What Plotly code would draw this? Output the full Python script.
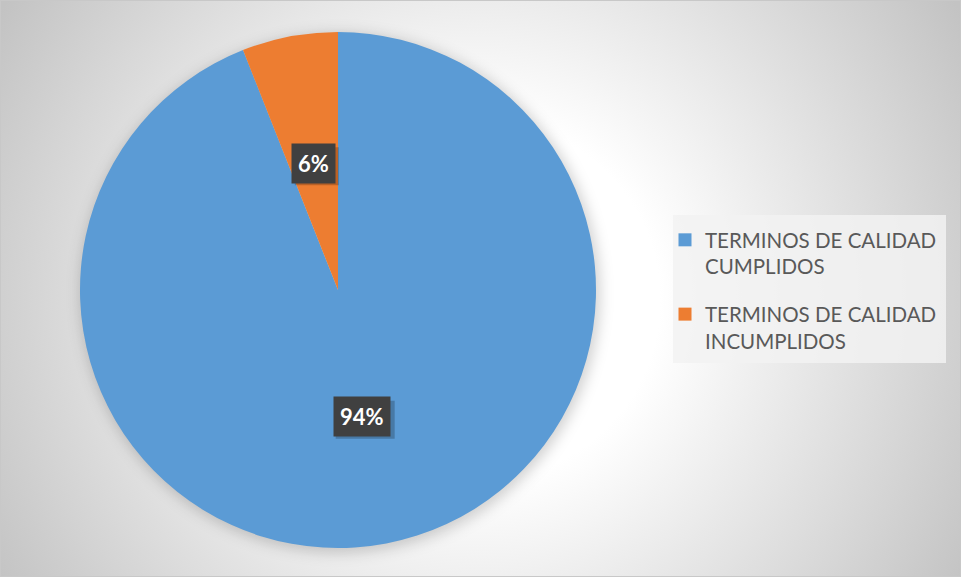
import plotly.graph_objects as go
import math, base64

# ---- data ----
labels = ["TERMINOS DE CALIDAD<br>CUMPLIDOS", "TERMINOS DE CALIDAD<br>INCUMPLIDOS"]
values = [94, 6]
colors = ["#5B9BD5", "#ED7D31"]
text_labels = ["94%", "6%"]

W, H = 961, 577
dom_x = [80 / W, 596 / W]
dom_y = [(H - 548) / H, (H - 32) / H]

# background radial gradient + soft pie shadow (styling only)
svg = f'''<svg xmlns="http://www.w3.org/2000/svg" width="{W}" height="{H}" viewBox="0 0 {W} {H}" preserveAspectRatio="none">
<defs>
<radialGradient id="g" cx="{W/2}" cy="{H*0.52}" r="{math.hypot(W/2, H/2)}" gradientUnits="userSpaceOnUse">
<stop offset="0" stop-color="#ffffff"/>
<stop offset="0.32" stop-color="#ffffff"/>
<stop offset="1" stop-color="#c3c3c3"/>
</radialGradient>
<filter id="b" x="-20%" y="-20%" width="140%" height="140%"><feGaussianBlur stdDeviation="7"/></filter>
</defs>
<rect x="0" y="0" width="{W}" height="{H}" fill="url(#g)"/>
<circle cx="{(dom_x[0]+dom_x[1])/2*W+2}" cy="{(1-(dom_y[0]+dom_y[1])/2)*H+3}" r="{min((dom_x[1]-dom_x[0])*W,(dom_y[1]-dom_y[0])*H)/2+2}" fill="#000" fill-opacity="0.18" filter="url(#b)"/>
</svg>'''
bg_uri = "data:image/svg+xml;base64," + base64.b64encode(svg.encode()).decode()

fig = go.Figure()
fig.add_trace(go.Pie(
    labels=labels,
    values=values,
    sort=False,
    direction="clockwise",
    rotation=0,
    marker=dict(colors=colors, line=dict(color="#ffffff", width=0)),
    textinfo="none",
    hoverinfo="label+percent",
    domain=dict(x=dom_x, y=dom_y),
    showlegend=False,
))

# legend entries (square swatches), one group each so the gap can be set
for lab, col in zip(labels, colors):
    fig.add_trace(go.Scatter(
        x=[None], y=[None], mode="markers", name=lab, legendgroup=lab,
        marker=dict(symbol="square", size=13, color=col),
        showlegend=True, hoverinfo="skip",
    ))

# data labels at half radius along each slice's mid angle
cx = (dom_x[0] + dom_x[1]) / 2
cy = (dom_y[0] + dom_y[1]) / 2
r_px = min((dom_x[1] - dom_x[0]) * W, (dom_y[1] - dom_y[0]) * H) / 2
total = sum(values)
cum = 0
shapes = []
for v, t in zip(values, text_labels):
    mid = (cum + v / 2) / total * 2 * math.pi
    cum += v
    ax = cx + 0.5 * r_px * math.sin(mid) / W
    ay = cy + 0.5 * r_px * math.cos(mid) / H
    half_w = 7 + 7.5 * len(t)
    # soft drop shadow behind label box
    shapes.append(dict(type="rect", xref="paper", yref="paper",
                       xsizemode="pixel", ysizemode="pixel",
                       xanchor=ax, yanchor=ay,
                       x0=-half_w + 3, x1=half_w + 3, y0=-19 - 3, y1=19 - 3,
                       line=dict(width=0), fillcolor="rgba(0,0,0,0.22)"))
    fig.add_annotation(x=ax, y=ay, xref="paper", yref="paper",
                       xanchor="center", yanchor="middle",
                       text=f"<b>{t}</b>", showarrow=False,
                       font=dict(family="Lato", size=22, color="#ffffff"),
                       bgcolor="#404040", borderpad=6)

shapes = [
    dict(type="rect", xref="paper", yref="paper", x0=673 / W, x1=946 / W,
         y0=1 - 363 / H, y1=1 - 215 / H, layer="below",
         line=dict(width=0), fillcolor="rgba(242,242,242,0.85)"),
    dict(type="rect", xref="paper", yref="paper", x0=0, y0=0, x1=1, y1=1,
         line=dict(color="#c8c8c8", width=2), fillcolor="rgba(0,0,0,0)"),
] + shapes

fig.update_layout(
    width=W, height=H,
    margin=dict(l=0, r=0, t=0, b=0),
    paper_bgcolor="#ffffff",
    plot_bgcolor="rgba(0,0,0,0)",
    xaxis=dict(visible=False),
    yaxis=dict(visible=False),
    images=[dict(source=bg_uri, xref="paper", yref="paper", x=0, y=1,
                 sizex=1, sizey=1, sizing="stretch", layer="below",
                 xanchor="left", yanchor="top")],
    legend=dict(
        x=665 / W, xanchor="left",
        y=1 - 220 / H, yanchor="top",
        bgcolor="rgba(0,0,0,0)",
        font=dict(family="Lato", size=20.5, color="#595959"),
        itemwidth=30,
        valign="top",
        tracegroupgap=18,
        traceorder="grouped",
    ),
    shapes=shapes,
)

fig.write_html("out.html", config={"displayModeBar": False},
               post_script="document.body.style.margin='0';")
